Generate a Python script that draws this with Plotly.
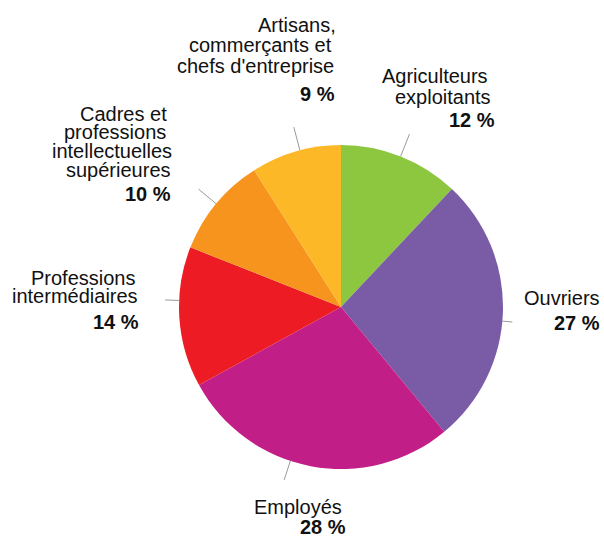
import math
import plotly.graph_objects as go

# ---- data ----
categories = ["Agriculteurs exploitants", "Ouvriers", "Employés",
              "Professions intermédiaires",
              "Cadres et professions intellectuelles supérieures",
              "Artisans, commerçants et chefs d'entreprise"]
shares = [12, 27, 28, 14, 10, 9]
colors = ["#8DC63F", "#7A5BA6", "#C21E87", "#ED1C24", "#F7941D", "#FDB827"]
label_lines = [
    ["Agriculteurs", "exploitants"],
    ["Ouvriers"],
    ["Employés"],
    ["Professions", "intermédiaires"],
    ["Cadres et", "professions", "intellectuelles", "supérieures"],
    ["Artisans,", "commerçants et", "chefs d'entreprise"],
]

# ---- layout (pixels) ----
W, H = 604, 536
CX, CY, R = 341, 307, 162
FS = 20
# per-line right edge x and baseline y, last entry is the bold percentage
label_pos = [
    [(489, 83), (492, 104), (496, 127)],
    [(601, 305), (601, 330)],
    [(343, 514), (347, 534)],
    [(137, 285), (139, 303), (140, 329)],
    [(168, 121), (167, 139), (173, 158), (172, 176.5), (172, 201)],
    [(337, 32), (333, 52.5), (335, 73.5), (336, 100.5)],
]
leader_nudge = [0, 3.2, 7.4, 5.9, 0, 1.5]
leader_outer = [186, 172, 182, 176, 185, 186]

fig = go.Figure(go.Pie(
    labels=categories, values=shares, sort=False, direction="clockwise",
    rotation=0, marker=dict(colors=colors, line=dict(width=0)),
    textinfo="none", hoverinfo="label+percent", showlegend=False,
    domain=dict(x=[(CX - R) / W, (CX + R) / W],
                y=[1 - (CY + R) / H, 1 - (CY - R) / H]),
))

def px(x):
    return x / W

def py(y):
    return 1 - y / H

total = sum(shares)
cum = 0
annotations, shapes = [], []
for i, v in enumerate(shares):
    mid = (cum + v / 2) / total * 360 + leader_nudge[i]
    cum += v
    a = math.radians(mid)
    x0, y0 = CX + R * math.sin(a), CY - R * math.cos(a)
    ro = leader_outer[i]
    x1, y1 = CX + ro * math.sin(a), CY - ro * math.cos(a)
    shapes.append(dict(type="line", xref="paper", yref="paper",
                       x0=px(x0), y0=py(y0), x1=px(x1), y1=py(y1),
                       line=dict(color="#9a9a9a", width=1), layer="below"))
    texts = label_lines[i] + [f"<b>{v} %</b>"]
    for t, (xr, yb) in zip(texts, label_pos[i]):
        annotations.append(dict(
            text=t, xref="paper", yref="paper", x=px(xr), y=py(yb - 7),
            xanchor="right", yanchor="middle", showarrow=False,
            borderpad=0, align="right",
            font=dict(family="Liberation Sans, Arial, sans-serif",
                      size=FS, color="#111111")))

fig.update_layout(
    width=W, height=H, margin=dict(l=0, r=0, t=0, b=0),
    paper_bgcolor="white", plot_bgcolor="white",
    annotations=annotations, shapes=shapes,
)

fig.write_html("out.html", config={"displayModeBar": False},
               post_script="document.body.style.margin='0';"
                           "document.body.style.overflow='hidden';")
